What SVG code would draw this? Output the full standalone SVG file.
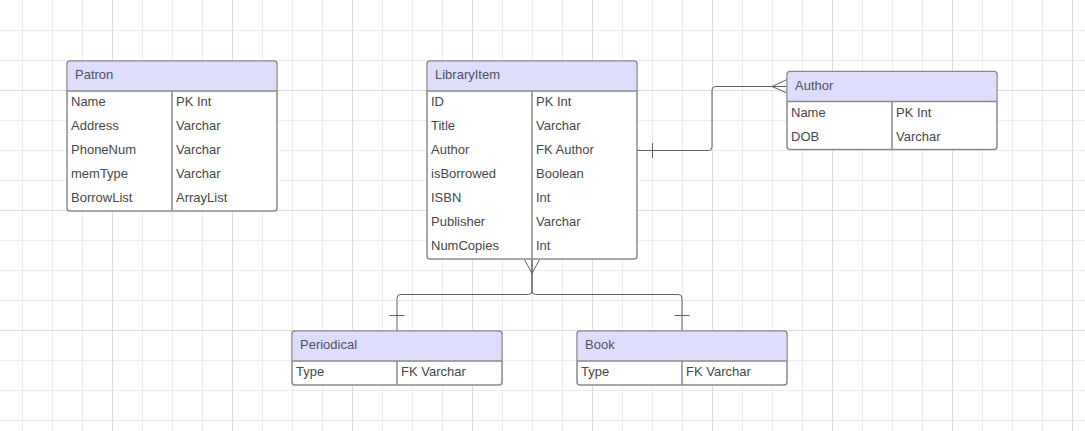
<svg xmlns="http://www.w3.org/2000/svg" width="1085" height="431" viewBox="0 0 1085 431">
<style>
.g{stroke:#ececec;stroke-width:1}
.gd{stroke:#dcdcdc;stroke-width:1}
.box{fill:#ffffff;stroke:#8a8a8a;stroke-width:1.5}
.hd{fill:#dedefc}
.ln{stroke:#8a8a8a;stroke-width:1.5;fill:none}
.t{font-family:"Liberation Sans",Arial,sans-serif;font-size:13px;fill:#474747}
.h{font-family:"Liberation Sans",Arial,sans-serif;font-size:13px;fill:#50505e}
.c{stroke:#5f5f5f;stroke-width:1;fill:none}
</style>
<rect width="1085" height="431" fill="#ffffff"/>
<g id="grid">
<path class="g" d="M22.5 0V431M52.5 0V431M82.5 0V431M142.5 0V431M172.5 0V431M202.5 0V431M262.5 0V431M292.5 0V431M322.5 0V431M382.5 0V431M412.5 0V431M442.5 0V431M502.5 0V431M532.5 0V431M562.5 0V431M622.5 0V431M652.5 0V431M682.5 0V431M742.5 0V431M772.5 0V431M802.5 0V431M862.5 0V431M892.5 0V431M922.5 0V431M982.5 0V431M1012.5 0V431M1042.5 0V431"/>
<path class="g" d="M0 30.5H1085M0 60.5H1085M0 120.5H1085M0 150.5H1085M0 180.5H1085M0 240.5H1085M0 270.5H1085M0 300.5H1085M0 360.5H1085M0 390.5H1085M0 420.5H1085"/>
<path class="gd" d="M112.5 0V431M232.5 0V431M352.5 0V431M472.5 0V431M592.5 0V431M712.5 0V431M832.5 0V431M952.5 0V431M1072.5 0V431M0 90.5H1085M0 210.5H1085M0 330.5H1085"/>
</g>
<g id="connectors">
<path class="c" d="M637 150.5H708.5a3.5 3.5 0 0 0 3.5-3.5V90a3.5 3.5 0 0 1 3.5-3.5H787"/>
<path class="c" d="M652.5 143V158"/>
<path class="c" d="M787 79.5L772 86.5L787 93"/>
<path class="c" d="M532 259V291a3.5 3.5 0 0 1-3.5 3.5H400.5a3.5 3.5 0 0 0-3.5 3.5V331"/>
<path class="c" d="M532 259V291a3.5 3.5 0 0 0 3.5 3.5H678.5a3.5 3.5 0 0 1 3.5 3.5V331"/>
<path class="c" d="M524.5 259.5L532 273.5L539.5 259.5"/>
<path class="c" d="M389.5 315.5H404.5M674.5 315.5H689.5"/>
</g>
<g id="patron">
<rect class="box" x="67" y="61" width="210" height="150" rx="3"/>
<path class="hd" d="M70 61.75H274a2.25 2.25 0 0 1 2.25 2.25V91H67.75V64a2.25 2.25 0 0 1 2.25-2.25Z"/>
<path class="ln" d="M67 91H277M172 91V211"/>
<text class="h" x="75" y="79">Patron</text>
<text class="t" x="71" y="106">Name</text><text class="t" x="176" y="106">PK Int</text>
<text class="t" x="71" y="130">Address</text><text class="t" x="176" y="130">Varchar</text>
<text class="t" x="71" y="154">PhoneNum</text><text class="t" x="176" y="154">Varchar</text>
<text class="t" x="71" y="178">memType</text><text class="t" x="176" y="178">Varchar</text>
<text class="t" x="71" y="202">BorrowList</text><text class="t" x="176" y="202">ArrayList</text>
</g>
<g id="libraryitem">
<rect class="box" x="427" y="61" width="210" height="198" rx="3"/>
<path class="hd" d="M430 61.75H634a2.25 2.25 0 0 1 2.25 2.25V91H427.75V64a2.25 2.25 0 0 1 2.25-2.25Z"/>
<path class="ln" d="M427 91H637M532 91V259"/>
<text class="h" x="435" y="79">LibraryItem</text>
<text class="t" x="431" y="106">ID</text><text class="t" x="536" y="106">PK Int</text>
<text class="t" x="431" y="130">Title</text><text class="t" x="536" y="130">Varchar</text>
<text class="t" x="431" y="154">Author</text><text class="t" x="536" y="154">FK Author</text>
<text class="t" x="431" y="178">isBorrowed</text><text class="t" x="536" y="178">Boolean</text>
<text class="t" x="431" y="202">ISBN</text><text class="t" x="536" y="202">Int</text>
<text class="t" x="431" y="226">Publisher</text><text class="t" x="536" y="226">Varchar</text>
<text class="t" x="431" y="250">NumCopies</text><text class="t" x="536" y="250">Int</text>
</g>
<g id="author">
<rect class="box" x="787" y="71.5" width="210" height="78" rx="3"/>
<path class="hd" d="M790 72.25H994a2.25 2.25 0 0 1 2.25 2.25V101.5H787.75V74.5a2.25 2.25 0 0 1 2.25-2.25Z"/>
<path class="ln" d="M787 101.5H997M892 101.5V149.5"/>
<text class="h" x="795" y="89.5">Author</text>
<text class="t" x="791" y="116.5">Name</text><text class="t" x="896" y="116.5">PK Int</text>
<text class="t" x="791" y="140.5">DOB</text><text class="t" x="896" y="140.5">Varchar</text>
</g>
<g id="periodical">
<rect class="box" x="292" y="331" width="210" height="54" rx="3"/>
<path class="hd" d="M295 331.75H499a2.25 2.25 0 0 1 2.25 2.25V361H292.75V334a2.25 2.25 0 0 1 2.25-2.25Z"/>
<path class="ln" d="M292 361H502M397 361V385"/>
<text class="h" x="300" y="349">Periodical</text>
<text class="t" x="296" y="376">Type</text><text class="t" x="401" y="376">FK Varchar</text>
</g>
<g id="book">
<rect class="box" x="577" y="331" width="210" height="54" rx="3"/>
<path class="hd" d="M580 331.75H784a2.25 2.25 0 0 1 2.25 2.25V361H577.75V334a2.25 2.25 0 0 1 2.25-2.25Z"/>
<path class="ln" d="M577 361H787M682 361V385"/>
<text class="h" x="585" y="349">Book</text>
<text class="t" x="581" y="376">Type</text><text class="t" x="686" y="376">FK Varchar</text>
</g>
</svg>
